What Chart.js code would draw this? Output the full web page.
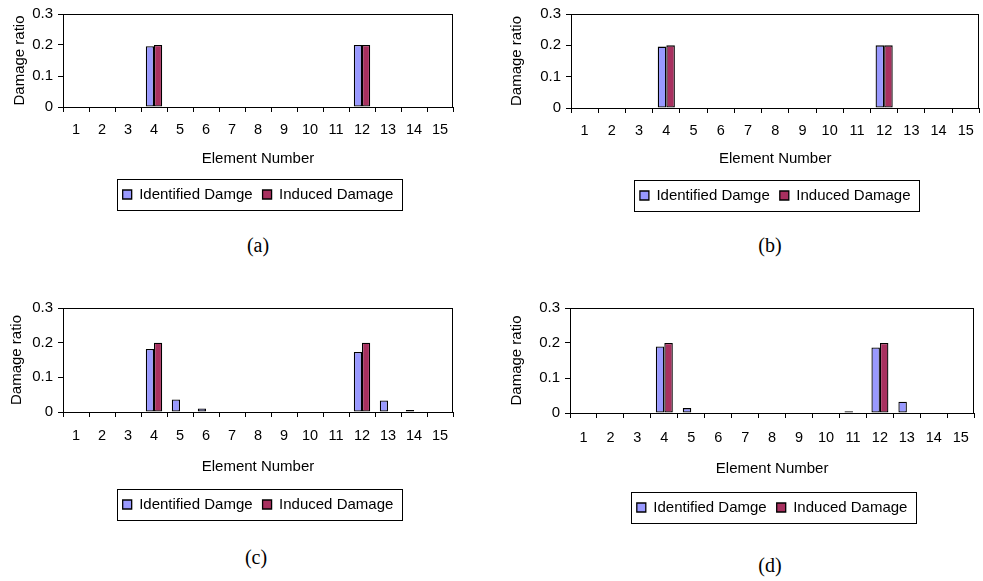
<!DOCTYPE html>
<html>
<head>
<meta charset="utf-8">
<script src="https://cdn.jsdelivr.net/npm/chart.js@4.4.1/dist/chart.umd.min.js"></script>
<style>
  html, body { margin: 0; padding: 0; background: #fff; }
  body { width: 983px; height: 581px; position: relative; overflow: hidden; }
  canvas { position: absolute; }
  .cap { position: absolute; font-family: "Liberation Serif", "Times New Roman", serif; font-size: 20px; color: #000; transform: translate(-50%, -50%); white-space: nowrap; }
</style>
</head>
<body>
<canvas id="ca" width="470" height="212" style="left:0px;top:0px;width:470px;height:212px"></canvas>
<canvas id="cb" width="493" height="213" style="left:490px;top:0px;width:493px;height:213px"></canvas>
<canvas id="cc" width="470" height="232" style="left:0px;top:290px;width:470px;height:232px"></canvas>
<canvas id="cd" width="490" height="235" style="left:490px;top:290px;width:490px;height:235px"></canvas>
<div class="cap" style="left:258px;top:245px">(a)</div>
<div class="cap" style="left:770px;top:245px">(b)</div>
<div class="cap" style="left:256px;top:557px">(c)</div>
<div class="cap" style="left:770px;top:565px">(d)</div>
<script>
// ---- data ----
const categories = ['1','2','3','4','5','6','7','8','9','10','11','12','13','14','15'];
const seriesNames = ['Identified Damge', 'Induced Damage'];
const yTicks = [0, 0.1, 0.2, 0.3];
const xTitle = 'Element Number';
const yTitle = 'Damage ratio';

const identifiedA = [0,0,0,0.196,0,0,0,0,0,0,0,0.200,0,0,0];
const inducedA    = [0,0,0,0.200,0,0,0,0,0,0,0,0.200,0,0,0];
const identifiedB = [0,0,0,0.196,0,0,0,0,0,0,0,0.200,0,0,0];
const inducedB    = [0,0,0,0.200,0,0,0,0,0,0,0,0.200,0,0,0];
const identifiedC = [0,0,0,0.182,0.036,0.010,0,0,0,0,0,0.173,0.033,0.006,0];
const inducedC    = [0,0,0,0.200,0,0,0,0,0,0,0,0.200,0,0,0];
const identifiedD = [0,0,0,0.190,0.014,0,0,0,0,0,0.005,0.187,0.032,0,0];
const inducedD    = [0,0,0,0.200,0,0,0,0,0,0,0,0.200,0,0,0];

const colIdent = '#9999FF';
const colInduced = '#A8305F';

const frame = {
  id: 'frame',
  afterDraw(chart) {
    const ctx = chart.ctx, a = chart.chartArea;
    ctx.save();
    ctx.strokeStyle = '#000';
    ctx.lineWidth = 1;
    ctx.strokeRect(Math.round(a.left) + 0.5, Math.round(a.top) + 0.5,
                   Math.round(a.right - a.left) - 1, Math.round(a.bottom - a.top));
    const lg = chart.legend;
    if (lg && lg.legendHitBoxes && lg.legendHitBoxes.length) {
      const hb = lg.legendHitBoxes;
      const l = Math.min(...hb.map(h => h.left)) - 6;
      const r = Math.max(...hb.map(h => h.left + h.width)) + 8;
      const cy = hb[0].top + hb[0].height / 2;
      ctx.strokeStyle = '#000';
      ctx.strokeRect(Math.round(l) + 0.5, Math.round(cy - 15.5) + 0.5, Math.round(r - l), 31);
    }
    ctx.restore();
  }
};

function makeChart(id, ident, induced, g) {
  new Chart(document.getElementById(id), {
    type: 'bar',
    data: {
      labels: categories,
      datasets: [
        { label: seriesNames[0], data: ident, backgroundColor: colIdent },
        { label: seriesNames[1], data: induced, backgroundColor: colInduced }
      ]
    },
    options: {
      responsive: false,
      animation: false,
      devicePixelRatio: 1,
      layout: { padding: { top: g.padTop, right: g.padRight, left: 0, bottom: 0 } },
      datasets: { bar: { borderColor: '#000', borderWidth: 1.3, borderSkipped: false,
                         categoryPercentage: 0.63, barPercentage: 1 } },
      plugins: {
        tooltip: { enabled: false },
        legend: {
          position: 'bottom',
          fullSize: false,
          labels: { color: '#000', boxWidth: 9, boxHeight: 9, padding: 10,
                    font: { family: 'Liberation Sans, Arial, sans-serif', size: 15 } }
        }
      },
      scales: {
        x: {
          offset: true,
          grid: { offset: true, drawOnChartArea: false, tickLength: 5, color: '#000' },
          border: { color: '#000' },
          ticks: { color: '#000', padding: g.tickPad, maxRotation: 0, autoSkip: false,
                   font: { family: 'Liberation Sans, Arial, sans-serif', size: 14.5 } },
          title: { display: true, text: xTitle, color: '#000', padding: { top: 0, bottom: g.xTitlePad },
                   font: { family: 'Liberation Sans, Arial, sans-serif', size: 15 } },
          afterFit(s) { s.height = g.xHeight; }
        },
        y: {
          min: 0, max: 0.3,
          afterBuildTicks(s) { s.ticks = yTicks.map(v => ({ value: v })); },
          grid: { drawOnChartArea: false, tickLength: 5, color: '#000' },
          border: { color: '#000' },
          ticks: { color: '#000', padding: 5,
                   font: { family: 'Liberation Sans, Arial, sans-serif', size: 15 } },
          title: { display: true, text: yTitle, color: '#000', padding: { top: g.yTitlePad, bottom: 0 },
                   font: { family: 'Liberation Sans, Arial, sans-serif', size: 15 } },
          afterFit(s) { s.width = g.yWidth; }
        }
      }
    },
    plugins: [frame]
  });
}

makeChart('ca', identifiedA, inducedA, { padTop: 12, padRight: 17, yWidth: 63, xHeight: 70, xTitlePad: 9,  tickPad: 9,  yTitlePad: 11 });
makeChart('cb', identifiedB, inducedB, { padTop: 12, padRight: 3,  yWidth: 81, xHeight: 70, xTitlePad: 10, tickPad: 9,  yTitlePad: 18 });
makeChart('cc', identifiedC, inducedC, { padTop: 18, padRight: 17, yWidth: 63, xHeight: 75, xTitlePad: 11, tickPad: 10, yTitlePad: 8 });
makeChart('cd', identifiedD, inducedD, { padTop: 18, padRight: 5,  yWidth: 80, xHeight: 77, xTitlePad: 12, tickPad: 11, yTitlePad: 18 });
</script>
</body>
</html>
